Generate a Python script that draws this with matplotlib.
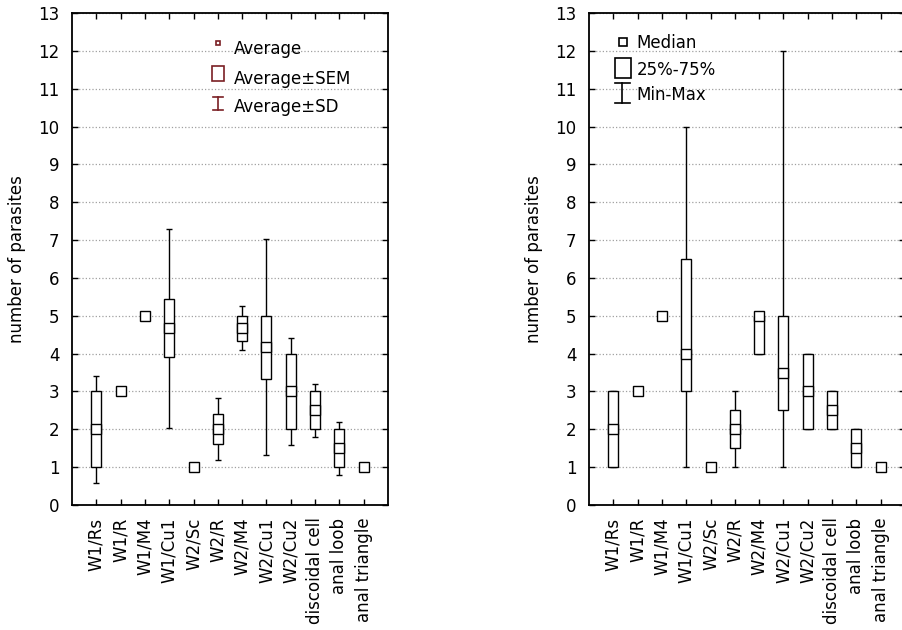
import numpy as np
import matplotlib
matplotlib.use("Agg")
import matplotlib.pyplot as plt

categories = ["W1/Rs", "W1/R", "W1/M4", "W1/Cu1", "W2/Sc", "W2/R", "W2/M4",
              "W2/Cu1", "W2/Cu2", "discoidal cell", "anal loob", "anal triangle"]

# left panel: average, SEM, SD
average = [2.0, 3.0, 5.0, 4.67, 1.0, 2.0, 4.67, 4.17, 3.0, 2.5, 1.5, 1.0]
sem = [1.0, 0.0, 0.0, 0.76, 0.0, 0.4, 0.33, 0.83, 1.0, 0.5, 0.5, 0.0]
sd = [1.41, 0.0, 0.0, 2.63, 0.0, 0.82, 0.58, 2.86, 1.41, 0.71, 0.7, 0.0]

# right panel: median, quartiles, min-max
median = [2.0, 3.0, 5.0, 4.0, 1.0, 2.0, 5.0, 3.5, 3.0, 2.5, 1.5, 1.0]
q25 = [1.0, 3.0, 5.0, 3.0, 1.0, 1.5, 4.0, 2.5, 2.0, 2.0, 1.0, 1.0]
q75 = [3.0, 3.0, 5.0, 6.5, 1.0, 2.5, 5.0, 5.0, 4.0, 3.0, 2.0, 1.0]
vmin = [1.0, 3.0, 5.0, 1.0, 1.0, 1.0, 4.0, 1.0, 2.0, 2.0, 1.0, 1.0]
vmax = [3.0, 3.0, 5.0, 10.0, 1.0, 3.0, 5.0, 12.0, 4.0, 3.0, 2.0, 1.0]

plt.rcParams['font.family'] = ['DejaVu Sans']
plt.rcParams['font.size'] = 12

W, H = 903, 630
fig = plt.figure(figsize=(W / 100, H / 100), dpi=100)

BOXW = 0.41
LEGEND_RED = '#7a1f24'


def setup_axes(ax):
    x = np.arange(1, len(categories) + 1)
    ax.set_xlim(0, len(categories) + 1)
    ax.set_ylim(0, 13)
    ax.set_yticks(range(0, 14))
    ax.set_xticks(x)
    ax.set_xticklabels(categories, rotation=90)
    ax.tick_params(direction='in', top=True, right=True, length=4, width=1,
                   pad=9, labelsize=12)
    ax.yaxis.grid(True, linestyle=':', color='#a0a0a0', linewidth=0.9)
    ax.set_axisbelow(True)
    for s in ax.spines.values():
        s.set_linewidth(1.3)
    ax.set_ylabel("number of parasites", fontsize=12, labelpad=9)
    return x


def draw_stats(ax, x, center, lo, hi, wlo, whi):
    center = np.array(center)
    ax.errorbar(x, center, yerr=[center - np.array(wlo), np.array(whi) - center],
                fmt='none', ecolor='black', elinewidth=1.0, capsize=2,
                capthick=1.0, zorder=3)
    ax.bar(x, np.array(hi) - np.array(lo), bottom=lo, width=BOXW,
           facecolor='white', edgecolor='black', linewidth=1.0, zorder=4)
    ax.plot(x, center, 's', ms=6.5, mfc='white', mec='black', mew=1.0, zorder=5)


def key(ax, kind, xc, y0, y1, color, w=0.0):
    tr = ax.transAxes
    if kind == 'marker':
        ax.plot([xc], [y0], 's', ms=y1, mfc='white', mec=color, mew=1.2,
                transform=tr, clip_on=False, zorder=6)
    elif kind == 'box':
        ax.add_patch(plt.Rectangle((xc - w / 2, y0), w, y1 - y0, transform=tr,
                                   facecolor='white', edgecolor=color, lw=1.2,
                                   clip_on=False, zorder=6))
    else:
        ax.plot([xc, xc], [y0, y1], color=color, lw=1.2, transform=tr, clip_on=False)
        ax.plot([xc - w / 2, xc + w / 2], [y0, y0], color=color, lw=1.2, transform=tr, clip_on=False)
        ax.plot([xc - w / 2, xc + w / 2], [y1, y1], color=color, lw=1.2, transform=tr, clip_on=False)


# left panel
axl = fig.add_axes([72 / W, (H - 505) / H, 316 / W, 492 / H])
x = setup_axes(axl)
avg = np.array(average)
draw_stats(axl, x, avg, avg - np.array(sem), avg + np.array(sem),
           avg - np.array(sd), avg + np.array(sd))

key(axl, 'marker', 0.462, 0.939, 3.2, LEGEND_RED)
key(axl, 'box', 0.462, 0.862, 0.893, LEGEND_RED, w=0.041)
key(axl, 'whisker', 0.462, 0.803, 0.829, LEGEND_RED, w=0.03)
for ty, txt in [(0.927, "Average"), (0.866, "Average\u00b1SEM"), (0.808, "Average\u00b1SD")]:
    axl.text(0.513, ty, txt, transform=axl.transAxes, va='center', ha='left', fontsize=12)

# right panel (its right edge runs off the picture)
axr = fig.add_axes([589 / W, (H - 505) / H, 316 / W, 492 / H])
x = setup_axes(axr)
axr.spines['right'].set_visible(False)
draw_stats(axr, x, median, q25, q75, vmin, vmax)

key(axr, 'marker', 0.107, 0.942, 6.0, 'black')
key(axr, 'box', 0.107, 0.868, 0.909, 'black', w=0.051)
key(axr, 'whisker', 0.105, 0.817, 0.858, 'black', w=0.048)
for ty, txt in [(0.940, "Median"), (0.884, "25%-75%"), (0.833, "Min-Max")]:
    axr.text(0.151, ty, txt, transform=axr.transAxes, va='center', ha='left', fontsize=12)

fig.savefig("out.png", dpi=100)
